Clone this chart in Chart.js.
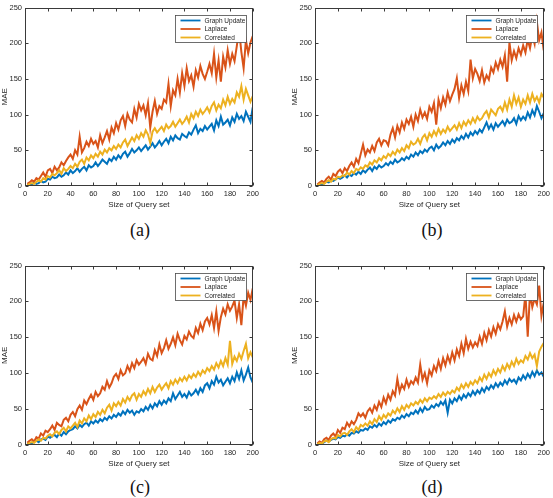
<!DOCTYPE html>
<html>
<head>
<meta charset="utf-8">
<script src="https://cdn.jsdelivr.net/npm/chart.js@4.4.0/dist/chart.umd.min.js"></script>
<style>
html,body{margin:0;padding:0;background:#fff;}
body{width:553px;height:498px;position:relative;overflow:hidden;}
canvas{position:absolute;}
.cap{position:absolute;width:60px;text-align:center;font-family:"Liberation Serif","DejaVu Serif",serif;font-size:18px;line-height:18px;color:#111;}
</style>
</head>
<body>
<canvas id="chart-a" width="262" height="215" style="left:0;top:0"></canvas>
<canvas id="chart-b" width="263" height="215" style="left:290px;top:0"></canvas>
<canvas id="chart-c" width="262" height="216" style="left:0;top:258px"></canvas>
<canvas id="chart-d" width="263" height="216" style="left:290px;top:258px"></canvas>
<div class="cap" style="left:110px;top:221px">(a)</div>
<div class="cap" style="left:402px;top:221px">(b)</div>
<div class="cap" style="left:110px;top:478px">(c)</div>
<div class="cap" style="left:402px;top:478px">(d)</div>
<script>
// MAE vs size of query set — four panels, MATLAB look
const SERIES_NAMES = ["Graph Update","Laplace","Correlated"];
const COLORS = ["#0072BD","#D95319","#EDB120"];
const X_TICKS = [0,20,40,60,80,100,120,140,160,180,200];
const Y_TICKS = [0,50,100,150,200,250];
const QUERY_SIZES = [2,4,6,8,10,12,14,16,18,20,22,24,26,28,30,32,34,36,38,40,
  42,44,46,48,50,52,54,56,58,60,62,64,66,68,70,72,74,76,78,80,
  82,84,86,88,90,92,94,96,98,100,102,104,106,108,110,112,114,116,118,120,
  122,124,126,128,130,132,134,136,138,140,142,144,146,148,150,152,154,156,158,160,
  162,164,166,168,170,172,174,176,178,180,182,184,186,188,190,192,194,196,198,200];

// (a)
const GRAPH_UPDATE_A = [1,2,2,5,3,4,7,5,6,10, 9,13,11,12,16,13,15,19,16,22, 18,21,25,20,24,27,22,29,26,28,
  33,28,32,37,34,31,38,35,41,37, 43,39,45,48,41,46,52,47,50,54, 49,53,57,51,55,60,54,58,63,57,
  62,66,60,69,64,71,67,65,73,70, 68,75,72,79,85,74,80,77,84,79, 83,87,78,92,84,97,86,89,93,85,
  96,90,101,94,98,91,104,97,90,110];
const LAPLACE_A = [3,5,8,6,11,9,14,19,13,22, 24,18,27,22,26,33,29,35,40,44, 38,50,44,69,47,53,62,56,66,59,
  63,54,71,60,68,77,65,82,74,88, 79,92,98,84,101,93,89,108,96,115, 106,113,99,116,82,104,119,101,112,108,
  121,117,143,112,134,127,150,131,158,140, 165,147,155,139,162,152,168,157,150,160, 171,158,185,152,176,146,181,166,190,171,
  185,175,196,219,188,165,204,186,201,210];
const CORRELATED_A = [1,3,4,3,6,8,6,11,9,14, 12,17,15,18,22,17,25,21,24,28, 25,31,27,34,37,31,40,36,43,39,
  45,41,48,44,51,47,53,50,56,52, 58,54,61,65,56,62,68,63,71,66, 74,69,78,72,60,76,81,75,79,83,
  77,86,81,84,90,83,88,93,87,91, 97,89,101,95,104,98,107,101,105,110, 103,112,117,106,114,109,121,113,125,115,
  122,117,131,125,140,121,136,127,118,126];

// (b)
const GRAPH_UPDATE_B = [1,3,2,4,6,5,8,7,9,12, 10,12,15,12,16,14,18,16,20,17, 22,19,23,26,21,27,24,29,26,28,
  32,29,34,31,37,33,35,39,36,41, 38,44,41,47,43,49,46,51,48,53, 55,50,58,53,56,61,57,63,59,65,
  61,67,64,70,66,73,68,75,71,77, 73,79,75,82,89,80,86,79,88,83, 87,91,85,93,88,90,95,87,98,92,
  97,93,103,96,106,99,112,104,95,102];
const LAPLACE_B = [2,5,7,5,10,13,9,17,14,20, 23,18,25,21,28,33,27,38,32,45, 58,43,51,47,56,49,61,66,57,64,
  63,57,72,81,68,84,75,89,80,93, 87,97,83,100,91,107,96,103,94,111, 104,116,86,121,109,124,114,131,119,128,
  136,151,123,141,129,146,133,177,151,164, 157,147,162,145,155,149,166,159,173,164, 177,167,183,146,201,176,189,179,193,184,
  197,187,205,193,211,199,230,204,215,190];
const CORRELATED_B = [1,3,4,3,6,8,6,10,9,13, 12,15,14,19,16,21,18,24,22,26, 24,29,27,33,30,36,33,39,36,42,
  39,45,42,48,44,51,47,53,49,57, 53,62,58,60,66,59,68,72,64,74, 69,77,71,80,73,79,75,83,77,81,
  85,79,88,81,90,85,92,87,95,89, 97,92,95,101,105,96,107,103,99,108, 111,105,117,107,121,111,127,115,124,111,
  121,115,127,117,129,119,125,117,129,124];

// (c)
const GRAPH_UPDATE_C = [1,3,2,5,6,4,8,9,7,12, 10,13,14,11,16,13,18,15,19,21, 22,26,23,28,25,29,31,27,33,30,
  34,31,36,33,38,35,40,37,42,39, 44,41,47,43,49,45,48,42,47,45, 50,47,53,49,56,51,58,54,61,56,
  62,58,65,61,72,64,69,74,67,71, 66,74,69,72,77,71,79,74,83,86, 79,89,84,95,87,91,83,88,93,86,
  95,89,101,92,104,90,98,108,94,87];
const LAPLACE_C = [3,6,8,5,11,9,16,13,20,18, 22,27,21,31,28,26,35,38,33,42, 46,40,50,55,49,62,57,64,70,63,
  74,68,72,81,77,89,80,86,95,99, 92,104,97,100,110,103,114,107,118,112, 116,121,113,127,120,118,132,124,140,128,
  135,146,134,141,150,139,155,146,140,152, 147,158,152,149,163,156,169,160,172,177, 168,181,163,186,159,178,190,182,196,187,
  193,201,177,196,167,207,194,212,202,218];
const CORRELATED_C = [1,3,4,3,6,8,6,10,9,13, 15,12,17,19,15,21,24,19,26,23, 27,31,25,34,30,37,33,41,36,43,
  39,46,42,49,44,52,56,48,58,54, 60,55,64,59,67,62,69,72,63,71, 67,75,70,78,72,81,74,80,84,77,
  82,86,79,89,84,91,86,93,89,95, 90,97,93,99,95,102,97,104,100,107, 103,110,105,114,108,117,110,121,112,145,
  113,123,117,127,120,131,141,121,129,122];

// (d)
const GRAPH_UPDATE_D = [1,3,2,4,6,5,7,9,8,11, 10,13,12,15,13,17,16,19,17,21, 20,23,21,26,24,28,25,30,27,32,
  29,34,31,36,34,38,36,41,38,43, 40,45,43,48,44,51,46,53,49,50, 55,52,57,54,60,56,62,45,63,58,
  65,61,68,63,70,66,72,68,75,70, 76,72,79,74,81,77,83,79,86,81, 87,83,90,85,92,88,91,86,94,90,
  97,92,99,94,102,96,104,98,101,95];
const LAPLACE_D = [2,5,3,8,10,7,13,16,12,21, 17,24,22,31,26,33,29,35,44,40, 44,38,47,51,45,55,49,60,53,66,
  58,70,63,75,69,92,74,84,78,91, 81,89,85,94,87,112,91,100,86,104, 97,110,103,117,106,121,111,124,115,129,
  118,133,124,141,128,148,134,144,136,143, 138,151,141,156,146,160,151,164,155,168, 161,172,186,165,177,168,181,172,182,175,
  179,210,151,212,192,204,196,222,180,198];
const CORRELATED_D = [1,3,2,5,6,4,8,10,9,14, 12,16,17,14,19,22,18,25,21,28, 26,30,27,33,29,36,32,40,35,42,
  38,44,41,48,44,51,46,54,49,56, 52,58,55,60,57,63,59,65,61,66, 64,68,65,71,67,73,69,74,71,76,
  73,80,76,84,79,86,81,88,84,90, 86,94,89,98,92,100,95,104,98,106, 101,110,104,113,107,116,110,120,113,118,
  115,124,119,128,121,126,110,130,137,142];

const AXIS_COLOR = "#3a3a3a";
const FONT = "'Liberation Sans', Arial, Helvetica, sans-serif";

function pairs(vals){ return QUERY_SIZES.map((q,i)=>({x:q, y:vals[i]})); }

// box around the axes, inward ticks on all four sides, legend in the top right corner
const matlabBox = {
  id:"matlabBox",
  afterDraw(chart){
    const {ctx, chartArea:a, scales:{x,y}} = chart;
    const L = Math.round(a.left)+0.5, R = Math.round(a.right)-0.5, T = Math.round(a.top)+0.5, B = Math.round(a.bottom)-0.5;
    ctx.save();
    ctx.strokeStyle = AXIS_COLOR; ctx.lineWidth = 1;
    ctx.strokeRect(L, T, R-L, B-T);
    ctx.beginPath();
    X_TICKS.forEach(v=>{
      const px = Math.round(x.getPixelForValue(v))+0.5;
      ctx.moveTo(px,B); ctx.lineTo(px,B-3);
      ctx.moveTo(px,T); ctx.lineTo(px,T+3);
    });
    Y_TICKS.forEach(v=>{
      const py = Math.round(y.getPixelForValue(v))+0.5;
      ctx.moveTo(L,py); ctx.lineTo(L+3,py);
      ctx.moveTo(R,py); ctx.lineTo(R-3,py);
    });
    ctx.stroke();

    // legend
    const w = 71, h = 27;
    const lx = Math.round(a.right) - 7 - w + 0.5, ly = Math.round(a.top) + 7 + 0.5;
    ctx.fillStyle = "#fff"; ctx.fillRect(lx, ly, w, h);
    ctx.strokeStyle = "#4a4a4a"; ctx.lineWidth = 0.8; ctx.strokeRect(lx, ly, w, h);
    ctx.font = "6.5px " + FONT; ctx.textBaseline = "middle"; ctx.textAlign = "left";
    chart.data.datasets.forEach((ds,i)=>{
      const ry = ly + 5 + i*8.5;
      ctx.strokeStyle = ds.borderColor; ctx.lineWidth = 1.8;
      ctx.beginPath(); ctx.moveTo(lx+5, ry); ctx.lineTo(lx+25, ry); ctx.stroke();
      ctx.fillStyle = "#222"; ctx.fillText(ds.label, lx+29, ry+0.5);
    });
    ctx.restore();
  }
};

function makeChart(id, gu, lap, cor){
  const lines = [gu, lap, cor];
  new Chart(document.getElementById(id), {
    type:"line",
    data:{ datasets: lines.map((vals,i)=>({
      label: SERIES_NAMES[i], data: pairs(vals), borderColor: COLORS[i], backgroundColor: COLORS[i],
      borderWidth: 2, pointRadius: 0, tension: 0, order: 3-i
    })) },
    options:{
      responsive:false, animation:false, events:[],
      layout:{ padding:{ top:4, right:6, left:0, bottom:0 } },
      plugins:{ legend:{display:false}, tooltip:{enabled:false} },
      scales:{
        x:{ type:"linear", min:0, max:200,
          afterBuildTicks: s=>{ s.ticks = X_TICKS.map(v=>({value:v})); },
          afterFit: s=>{ s.height = 29; },
          ticks:{ color:"#262626", font:{family:FONT, size:7.5}, padding:3, maxRotation:0, autoSkip:false },
          grid:{ display:false, drawTicks:false }, border:{ display:false },
          title:{ display:true, text:"Size of Query set", color:"#262626", font:{family:FONT, size:8}, padding:{top:0, bottom:5} } },
        y:{ min:0, max:250,
          afterBuildTicks: s=>{ s.ticks = Y_TICKS.map(v=>({value:v})); },
          afterFit: s=>{ s.width = 25; },
          ticks:{ color:"#262626", font:{family:FONT, size:7.5}, padding:3 },
          grid:{ display:false, drawTicks:false }, border:{ display:false },
          title:{ display:true, text:"MAE", color:"#262626", font:{family:FONT, size:8}, padding:0 } }
      }
    },
    plugins:[matlabBox]
  });
}

makeChart("chart-a", GRAPH_UPDATE_A, LAPLACE_A, CORRELATED_A);
makeChart("chart-b", GRAPH_UPDATE_B, LAPLACE_B, CORRELATED_B);
makeChart("chart-c", GRAPH_UPDATE_C, LAPLACE_C, CORRELATED_C);
makeChart("chart-d", GRAPH_UPDATE_D, LAPLACE_D, CORRELATED_D);
</script>
</body>
</html>
